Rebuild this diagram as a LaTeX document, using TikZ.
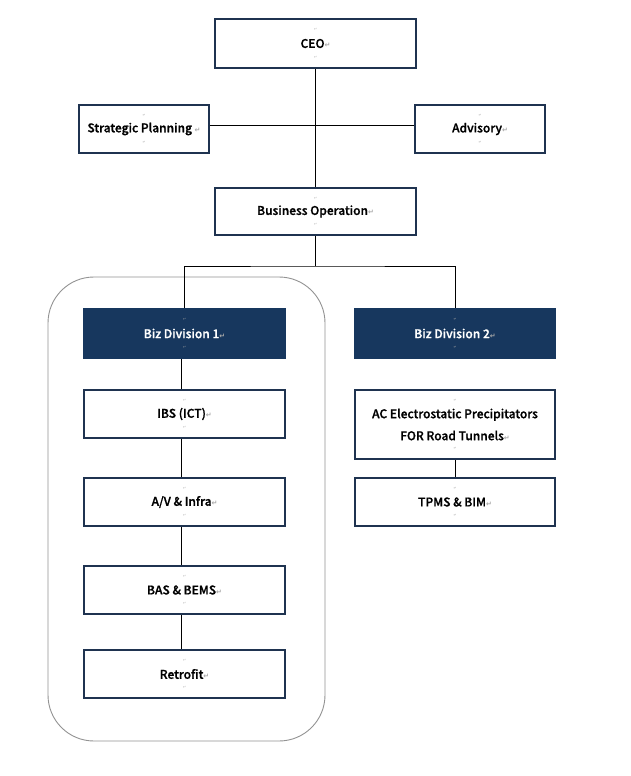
\documentclass[tikz,border=0pt]{standalone}
\usepackage{fontspec}
\setmainfont{Noto Sans CJK KR}[BoldFont={Noto Sans CJK KR Medium},BoldFeatures={FakeBold=1.2}]
\newfontfamily\symf{DejaVu Sans}
\definecolor{navy}{HTML}{1F3350}
\definecolor{navyfill}{HTML}{17375E}
\definecolor{markgray}{HTML}{A8A8A8}
\newcommand\retmark{{\symf\color{markgray}\fontsize{7}{7}\selectfont ↵}}
\begin{document}
\begin{tikzpicture}[x=1pt,y=-1pt,
  mk/.style={text=markgray,inner sep=0pt,font=\symf\fontsize{3.5}{3.5}\selectfont},
  box/.style={draw=navy,line width=2.2pt,fill=white,rectangle,inner sep=2pt,
    font=\bfseries\fontsize{12}{22}\selectfont,align=center,
    label={[mk,label distance=-13pt]90:{↵}},
    label={[mk,label distance=-13pt]-90:{↵}}},
  darkbox/.style={box,fill=navyfill,draw=navyfill,text=white},
  conn/.style={draw=black,line width=0.9pt}]
\useasboundingbox (0,0) rectangle (631,776);
\fill[white] (0,0) rectangle (631,776);
% grouping frame
\draw[gray!85,line width=0.9pt,rounded corners=46pt] (48,277) rectangle (325,741);
% nodes
\node[box,minimum width=201,minimum height=49] (ceo) at (315.5,43.5) {CEO\retmark};
\node[box,minimum width=130,minimum height=48] (sp) at (144,129) {Strategic Planning \retmark};
\node[box,minimum width=130,minimum height=48] (adv) at (480,129) {Advisory\retmark};
\node[box,minimum width=201,minimum height=47] (bo) at (315.5,211.5) {Business Operation\retmark};
\node[darkbox,minimum width=201,minimum height=49] (d1) at (184.5,333.5) {Biz Division 1\retmark};
\node[darkbox,minimum width=200,minimum height=49] (d2) at (455,333.5) {Biz Division 2\retmark};
\node[box,minimum width=201,minimum height=48] (ibs) at (184.5,414) {IBS (ICT)\retmark};
\node[box,minimum width=201,minimum height=48] (av) at (184.5,502) {A/V \& Infra\retmark};
\node[box,minimum width=201,minimum height=48] (bas) at (184.5,590) {BAS \& BEMS\retmark};
\node[box,minimum width=201,minimum height=48] (ret) at (184.5,674) {Retrofit\retmark};
\node[box,minimum width=200,minimum height=69] (ac) at (455,424.5) {AC Electrostatic Precipitators\\FOR Road Tunnels\retmark};
\node[box,minimum width=200,minimum height=48] (tpms) at (455,502) {TPMS \& BIM\retmark};
% connectors
\coordinate (j) at (315.5,266);
\coordinate (jsp) at (315.5,125);
\draw[conn] (ceo.south) -- (bo.north);
\draw[conn] (sp.east |- jsp) -- (adv.west |- jsp);
\draw[conn] (bo.south) -- (j);
\draw[conn] (d1.north) |- (j) -| (d2.north);
\draw[conn] ([xshift=-3.5pt]d1.south) -- ([xshift=-3.5pt]ibs.north);
\draw[conn] ([xshift=-3.5pt]ibs.south) -- ([xshift=-3.5pt]av.north);
\draw[conn] ([xshift=-3.5pt]av.south) -- ([xshift=-3.5pt]bas.north);
\draw[conn] ([xshift=-3.5pt]bas.south) -- ([xshift=-3.5pt]ret.north);
\draw[conn] (ac.south) -- (tpms.north);
\end{tikzpicture}
\end{document}
